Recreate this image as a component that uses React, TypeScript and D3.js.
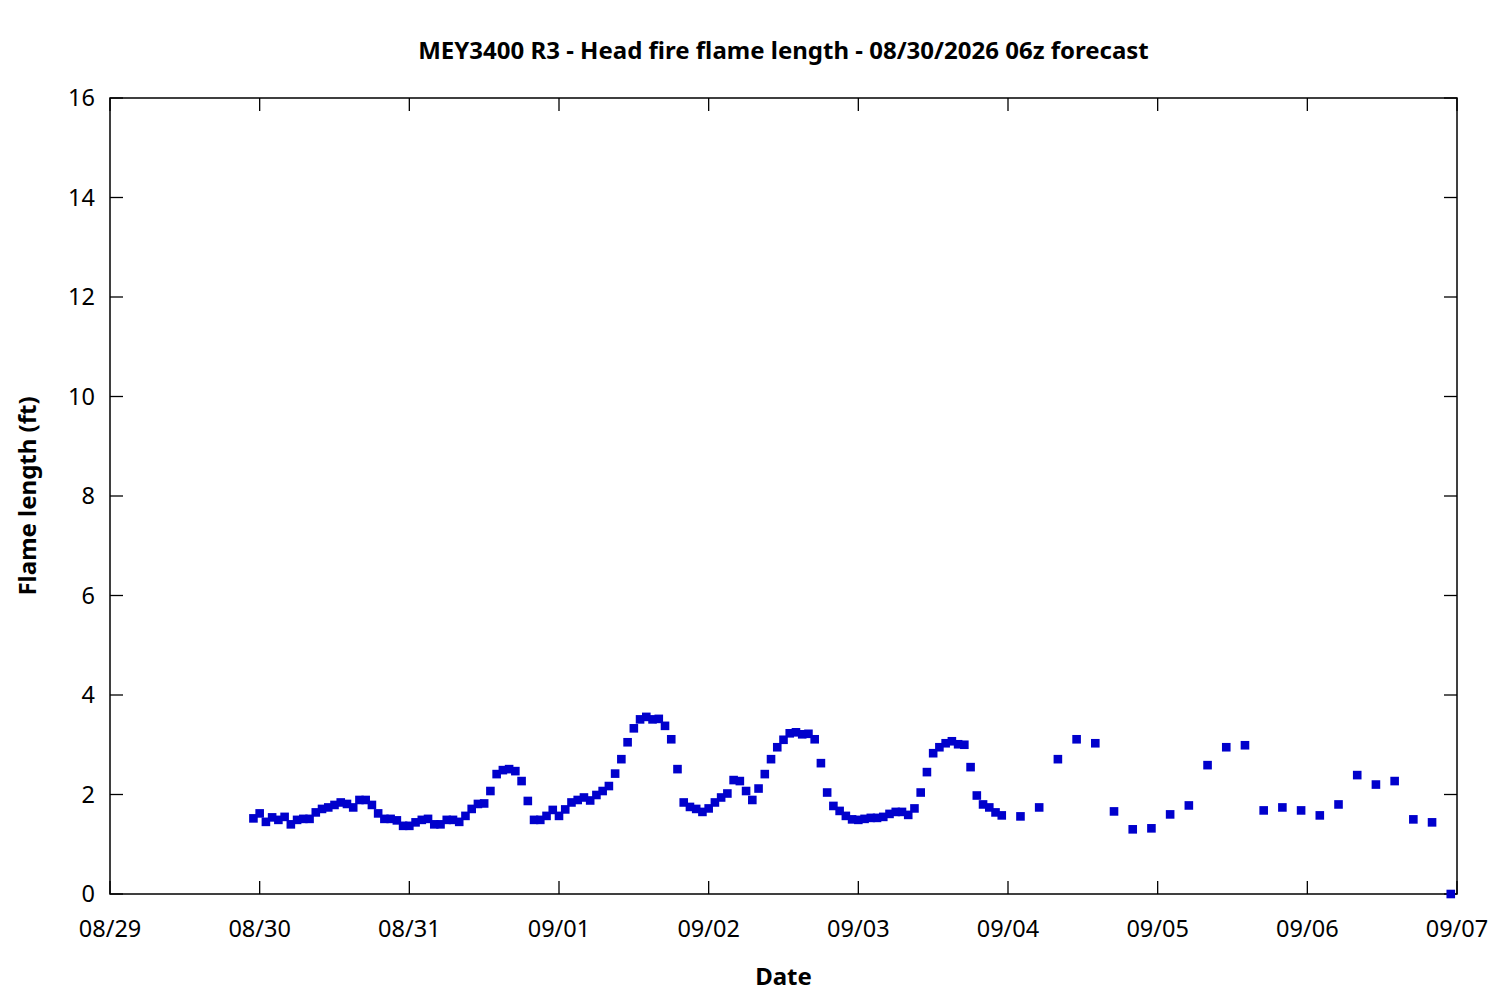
import React, { useEffect, useRef } from 'react';
import * as d3 from 'd3';

const TITLE = 'MEY3400 R3 - Head fire flame length - 08/30/2026 06z forecast';

// hourly values, 08/29 23:00 .. 09/03 23:00
const HOURLY_START = Date.UTC(2026, 7, 29, 23);
const hourlyValues = [
  1.52, 1.62, 1.45, 1.54, 1.49, 1.55, 1.40, 1.49, 1.51, 1.51,
  1.64, 1.71, 1.74, 1.79, 1.84, 1.81, 1.74, 1.89, 1.89, 1.79,
  1.62, 1.51, 1.51, 1.48, 1.37, 1.37, 1.44, 1.49, 1.51, 1.40,
  1.40, 1.49, 1.49, 1.45, 1.57, 1.71, 1.81, 1.82, 2.07, 2.41,
  2.49, 2.51, 2.47, 2.27, 1.87, 1.49, 1.49, 1.57, 1.69,
  1.57, 1.70, 1.84, 1.89, 1.94, 1.88, 1.99, 2.07, 2.17, 2.42,
  2.71, 3.05, 3.33, 3.51, 3.56, 3.51, 3.52, 3.38, 3.11, 2.51,
  1.84, 1.75, 1.71, 1.65, 1.72, 1.84, 1.94, 2.02, 2.29, 2.27,
  2.07, 1.89, 2.12, 2.41, 2.71, 2.95, 3.10, 3.23, 3.25, 3.21,
  3.22, 3.11, 2.63, 2.04, 1.77, 1.67,
  1.57, 1.50, 1.49, 1.51, 1.53, 1.53, 1.55, 1.61, 1.65, 1.65,
  1.59, 1.72, 2.04, 2.45, 2.83, 2.95, 3.03, 3.07, 3.01, 3.00,
  2.55, 1.98, 1.80, 1.74, 1.64, 1.58,
];

// 3-hourly values, 09/04 02:00 .. 09/06 23:00
const THREE_HOURLY_START = Date.UTC(2026, 8, 4, 2);
const threeHourlyValues = [
  1.56, 1.74, 2.71, 3.11, 3.03, 1.66, 1.30, 1.32, 1.60, 1.78,
  2.59, 2.95, 2.99, 1.68, 1.74, 1.68, 1.58, 1.80, 2.39, 2.20,
  2.27, 1.50, 1.44, 0.00,
];

const yTicks = [0, 2, 4, 6, 8, 10, 12, 14, 16];
const xStart = new Date(Date.UTC(2026, 7, 29));
const xEnd = new Date(Date.UTC(2026, 8, 7));

const FONT = '"Noto Sans", "Open Sans", sans-serif';
const COLOR = '#0000cc';

export default function App() {
  const svgRef = useRef<SVGSVGElement>(null);

  useEffect(() => {
    if (!svgRef.current) return;
    const svg = d3.select(svgRef.current);
    svg.selectAll('*').remove();

    const margin = { top: 98, right: 43, bottom: 106, left: 110 };
    const width = 1500 - margin.left - margin.right;
    const height = 1000 - margin.top - margin.bottom;

    const points = [
      ...hourlyValues.map((v, i) => ({ t: d3.utcHour.offset(new Date(HOURLY_START), i), v })),
      ...threeHourlyValues.map((v, i) => ({ t: d3.utcHour.offset(new Date(THREE_HOURLY_START), i * 3), v })),
    ];

    const x = d3.scaleUtc().domain([xStart, xEnd]).range([0, width]);
    const y = d3.scaleLinear().domain([0, 16]).range([height, 0]);
    const days = d3.utcDay.range(xStart, d3.utcDay.offset(xEnd, 1));

    const g = svg.append('g').attr('transform', `translate(${margin.left},${margin.top})`);

    // tick marks, mirrored on all sides
    const tickLen = 13;
    yTicks.forEach(t => {
      g.append('line').attr('x1', 0).attr('x2', tickLen).attr('y1', y(t)).attr('y2', y(t))
        .attr('stroke', '#000').attr('stroke-width', 1.3);
      g.append('line').attr('x1', width - tickLen).attr('x2', width).attr('y1', y(t)).attr('y2', y(t))
        .attr('stroke', '#000').attr('stroke-width', 1.3);
      g.append('text')
        .attr('x', -15).attr('y', y(t)).attr('dy', '0.36em')
        .attr('text-anchor', 'end')
        .style('font-family', FONT).style('font-size', '23.5px')
        .text(t);
    });

    days.forEach(d => {
      const xp = x(d);
      g.append('line').attr('x1', xp).attr('x2', xp).attr('y1', height).attr('y2', height - tickLen)
        .attr('stroke', '#000').attr('stroke-width', 1.3);
      g.append('line').attr('x1', xp).attr('x2', xp).attr('y1', 0).attr('y2', tickLen)
        .attr('stroke', '#000').attr('stroke-width', 1.3);
      g.append('text')
        .attr('x', xp).attr('y', height + 43)
        .attr('text-anchor', 'middle')
        .style('font-family', FONT).style('font-size', '23.5px')
        .text(d3.utcFormat('%m/%d')(d));
    });

    // frame
    g.append('rect').attr('width', width).attr('height', height)
      .attr('fill', 'none').attr('stroke', '#000').attr('stroke-width', 1.5);

    // points
    const s = 8.6;
    g.selectAll('.pt')
      .data(points)
      .join('rect')
      .attr('class', 'pt')
      .attr('x', d => x(d.t) - s / 2)
      .attr('y', d => y(d.v) - s / 2)
      .attr('width', s)
      .attr('height', s)
      .attr('fill', COLOR);

    // title and axis labels
    svg.append('text')
      .attr('x', margin.left + width / 2).attr('y', 58.5)
      .attr('text-anchor', 'middle')
      .style('font-family', FONT).style('font-size', '24px').style('font-weight', 'bold')
      .text(TITLE);

    svg.append('text')
      .attr('x', margin.left + width / 2).attr('y', 985)
      .attr('text-anchor', 'middle')
      .style('font-family', FONT).style('font-size', '24px').style('font-weight', 'bold')
      .text('Date');

    svg.append('text')
      .attr('transform', `translate(36,${margin.top + height / 2}) rotate(-90)`)
      .attr('text-anchor', 'middle')
      .style('font-family', FONT).style('font-size', '24px').style('font-weight', 'bold')
      .text('Flame length (ft)');
  }, []);

  return (
    <svg
      ref={svgRef}
      width={1500}
      height={1000}
      style={{ position: 'absolute', left: 0, top: 0, background: '#fff' }}
    />
  );
}
